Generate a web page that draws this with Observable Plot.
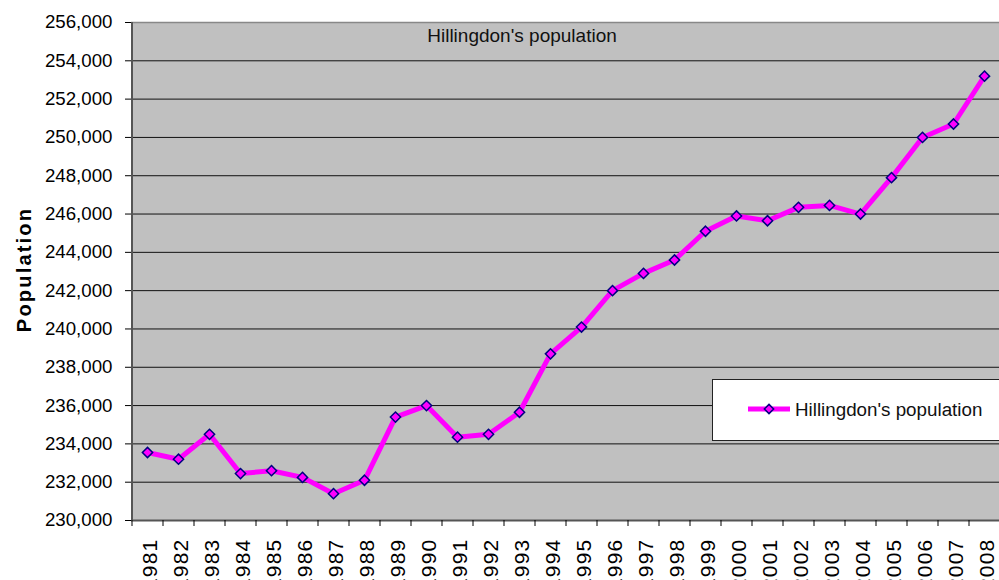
<!DOCTYPE html>
<html>
<head>
<meta charset="utf-8">
<script src="https://cdn.jsdelivr.net/npm/d3@7"></script>
<script src="https://cdn.jsdelivr.net/npm/@observablehq/plot@0.6"></script>
<style>
  body { margin: 0; background: #fff; }
  #wrap { position: relative; width: 999px; height: 580px; overflow: hidden; font-family: "Liberation Sans", Arial, sans-serif; }
  #wrap svg { display: block; }
  #title { position: absolute; left: 522px; top: 25px; transform: translateX(-50%); font-size: 19px; color: #111; white-space: nowrap; }
  #legend { position: absolute; left: 712px; top: 379px; width: 300px; height: 62px; background: #fff; border: 1px solid #222; box-sizing: border-box; }
  #legend svg { position: absolute; left: 34px; top: 19px; }
  #legend span { position: absolute; left: 82px; top: 19px; font-size: 18.8px; color: #111; white-space: nowrap; }
</style>
</head>
<body>
<div id="wrap"></div>
<script>
// ---- data ----
const years = ["1981","1982","1983","1984","1985","1986","1987","1988","1989","1990",
               "1991","1992","1993","1994","1995","1996","1997","1998","1999","2000",
               "2001","2002","2003","2004","2005","2006","2007","2008"];
const population = [233550, 233200, 234500, 232450, 232600, 232250, 231400, 232100, 235400, 236000,
                    234350, 234500, 235650, 238700, 240100, 242000, 242900, 243600, 245100, 245900,
                    245650, 246350, 246450, 246000, 247900, 250000, 250700, 253200];
const yTicks = [230000, 232000, 234000, 236000, 238000, 240000, 242000, 244000, 246000,
                248000, 250000, 252000, 254000, 256000];
const seriesName = "Hillingdon's population";
const yLabel = "Population";

const data = years.map((y, i) => ({year: y, pop: population[i]}));

const chart = Plot.plot({
  width: 999,
  height: 580,
  marginLeft: 131,
  marginRight: 0,
  marginTop: 22,
  marginBottom: 60,
  style: {fontFamily: "'Liberation Sans', Arial, sans-serif", background: "transparent", color: "#000", overflow: "hidden"},
  x: {type: "point", domain: years, padding: 0.5, align: 0.5, label: null},
  y: {domain: [230000, 256000], label: null},
  marks: [
    Plot.frame({fill: "#c0c0c0", stroke: null}),
    Plot.ruleY(yTicks, {stroke: "#111", strokeWidth: 1}),
    Plot.ruleY([256000], {stroke: "#888", strokeWidth: 1.5}),
    Plot.ruleY([230000], {stroke: "#555", strokeWidth: 2}),
    Plot.ruleX([years[0]], {dx: -15.5, stroke: "#555", strokeWidth: 2}),
    Plot.axisY({ticks: yTicks, tickFormat: d3.format(","), tickSize: 6, tickPadding: 13, fontSize: 18.7, label: null}),
    Plot.axisX({tickSize: 6, tickFormat: () => "", dx: -15.5, label: null}),
    Plot.axisX({tickSize: 0, tickRotate: -90, tickPadding: 18, dx: 3, fontSize: 21, label: null}),
    Plot.text([yLabel], {frameAnchor: "left", textAnchor: "middle", rotate: -90, dx: -107, dy: -2, fontWeight: "bold", fontSize: 20, fill: "#000"}),
    Plot.line(data, {x: "year", y: "pop", stroke: "#ff00ff", strokeWidth: 5}),
    Plot.dot(data, {x: "year", y: "pop", symbol: "diamond2", r: 4.6, fill: "#ff00ff", stroke: "#000080", strokeWidth: 1.5})
  ]
});

// letter spacing for the y label and the rotated year labels
d3.select(chart).selectAll("text").filter(function() { return this.textContent === yLabel; })
  .attr("letter-spacing", "2.2px");
d3.select(chart).selectAll("text").filter(function() { return years.includes(this.textContent); })
  .attr("letter-spacing", "1.2px");

const wrap = document.getElementById("wrap");
wrap.appendChild(chart);

const title = document.createElement("div");
title.id = "title";
title.textContent = seriesName;
wrap.appendChild(title);

// legend
const legend = document.createElement("div");
legend.id = "legend";
const sw = d3.create("svg").attr("width", 44).attr("height", 22);
sw.append("line").attr("x1", 1).attr("x2", 43).attr("y1", 10).attr("y2", 10)
  .attr("stroke", "#ff00ff").attr("stroke-width", 5);
sw.append("path").attr("d", d3.symbol(d3.symbolDiamond2, 55)()).attr("transform", "translate(22,10)")
  .attr("fill", "#ff00ff").attr("stroke", "#000080").attr("stroke-width", 1.5);
legend.appendChild(sw.node());
const lt = document.createElement("span");
lt.textContent = seriesName;
legend.appendChild(lt);
wrap.appendChild(legend);
</script>
</body>
</html>
